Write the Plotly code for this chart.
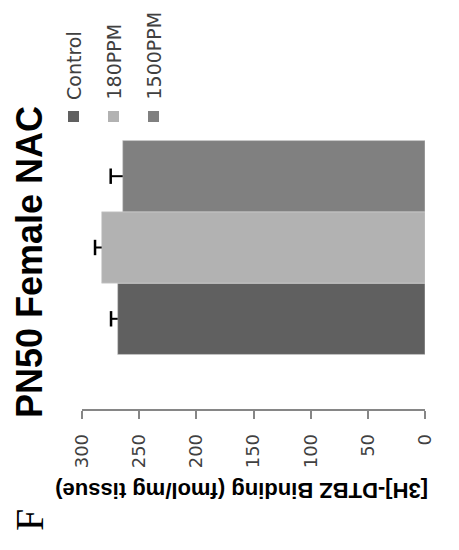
import plotly.graph_objects as go

# ---- data ----
groups = ["Control", "180PPM", "1500PPM"]
values = [268.8, 282.8, 264.4]
errors = [5.8, 5.8, 10.5]
colors = ["#606060", "#b2b2b2", "#808080"]
tick_vals = [0, 50, 100, 150, 200, 250, 300]
tick_text = ["0", "50", "100", "150", "200", "250", "300"]
title_text = "PN50 Female NAC"
axis_title = "[3H]-DTBZ Binding (fmol/mg tissue)"
panel_label = "F"

W, H = 459, 550
L, R, T, B = 82, 34, 86, 141
PW, PH = W - L - R, H - T - B


def px(x, y):
    """screen pixel -> paper coords"""
    return (x - L) / PW, (H - B - y) / PH


pos = list(range(len(groups)))
caps = [v + e for v, e in zip(values, errors)]

fig = go.Figure()
fig.add_trace(go.Bar(
    y=pos, x=values, orientation="h", width=1,
    marker=dict(color=colors, line=dict(color="#cfcfcf", width=0.6)),
    error_x=dict(type="data", symmetric=False, array=errors, arrayminus=[0] * len(errors),
                 color="black", thickness=2, width=0),
    showlegend=False, hoverinfo="skip",
))
fig.add_trace(go.Scatter(
    y=pos, x=caps, mode="markers",
    marker=dict(symbol="line-ns", size=11, line=dict(color="black", width=2.5)),
    showlegend=False, hoverinfo="skip",
))

annotations = []
shapes = []
x0, y0 = px(29, 262)
annotations.append(dict(text="<b>" + title_text + "</b>", x=x0, y=y0, xref="paper", yref="paper",
                        textangle=-90, showarrow=False, xanchor="center", yanchor="middle",
                        font=dict(family="Liberation Sans, Arial", size=36, color="black")))
x0, y0 = px(242, 491)
annotations.append(dict(text="<b>" + axis_title + "</b>", x=x0, y=y0, xref="paper", yref="paper",
                        textangle=180, showarrow=False, xanchor="center", yanchor="middle",
                        font=dict(family="Liberation Sans, Arial", size=22, color="black")))
x0, y0 = px(29, 520)
annotations.append(dict(text=panel_label, x=x0, y=y0, xref="paper", yref="paper",
                        textangle=-90, showarrow=False, xanchor="center", yanchor="middle",
                        font=dict(family="Liberation Serif, Times New Roman", size=40, color="black")))
leg_x = [73.5, 113.5, 153.5]
for g, c, lx in zip(groups, colors, leg_x):
    a0, b0 = px(lx - 5.5, 122)
    a1, b1 = px(lx + 5.5, 111)
    shapes.append(dict(type="rect", xref="paper", yref="paper", x0=a0, x1=a1, y0=b0, y1=b1,
                       fillcolor=c, line=dict(width=0)))
    tx, ty = px(lx, 102)
    annotations.append(dict(text=g, x=tx, y=ty, xref="paper", yref="paper",
                            textangle=-90, showarrow=False, xanchor="center", yanchor="bottom",
                            font=dict(family="DejaVu Sans", size=19, color="#404040")))

fig.update_layout(
    width=W, height=H,
    margin=dict(l=L, r=R, t=T, b=B),
    paper_bgcolor="white", plot_bgcolor="white",
    annotations=annotations, shapes=shapes,
    xaxis=dict(range=[300, 0], tickvals=tick_vals, ticktext=tick_text, tickangle=-90,
               showgrid=False, zeroline=False, showline=True, linecolor="#868686", linewidth=1.5,
               ticks="outside", ticklen=8, tickcolor="#868686", tickwidth=1.5,
               ticklabelstandoff=8,
               tickfont=dict(family="DejaVu Sans", size=18, color="#404040")),
    yaxis=dict(visible=False, range=[-1.265, 3.265]),
)

fig.write_html("out.html", config={"displayModeBar": False},
               post_script="document.body.style.margin='0px';")
